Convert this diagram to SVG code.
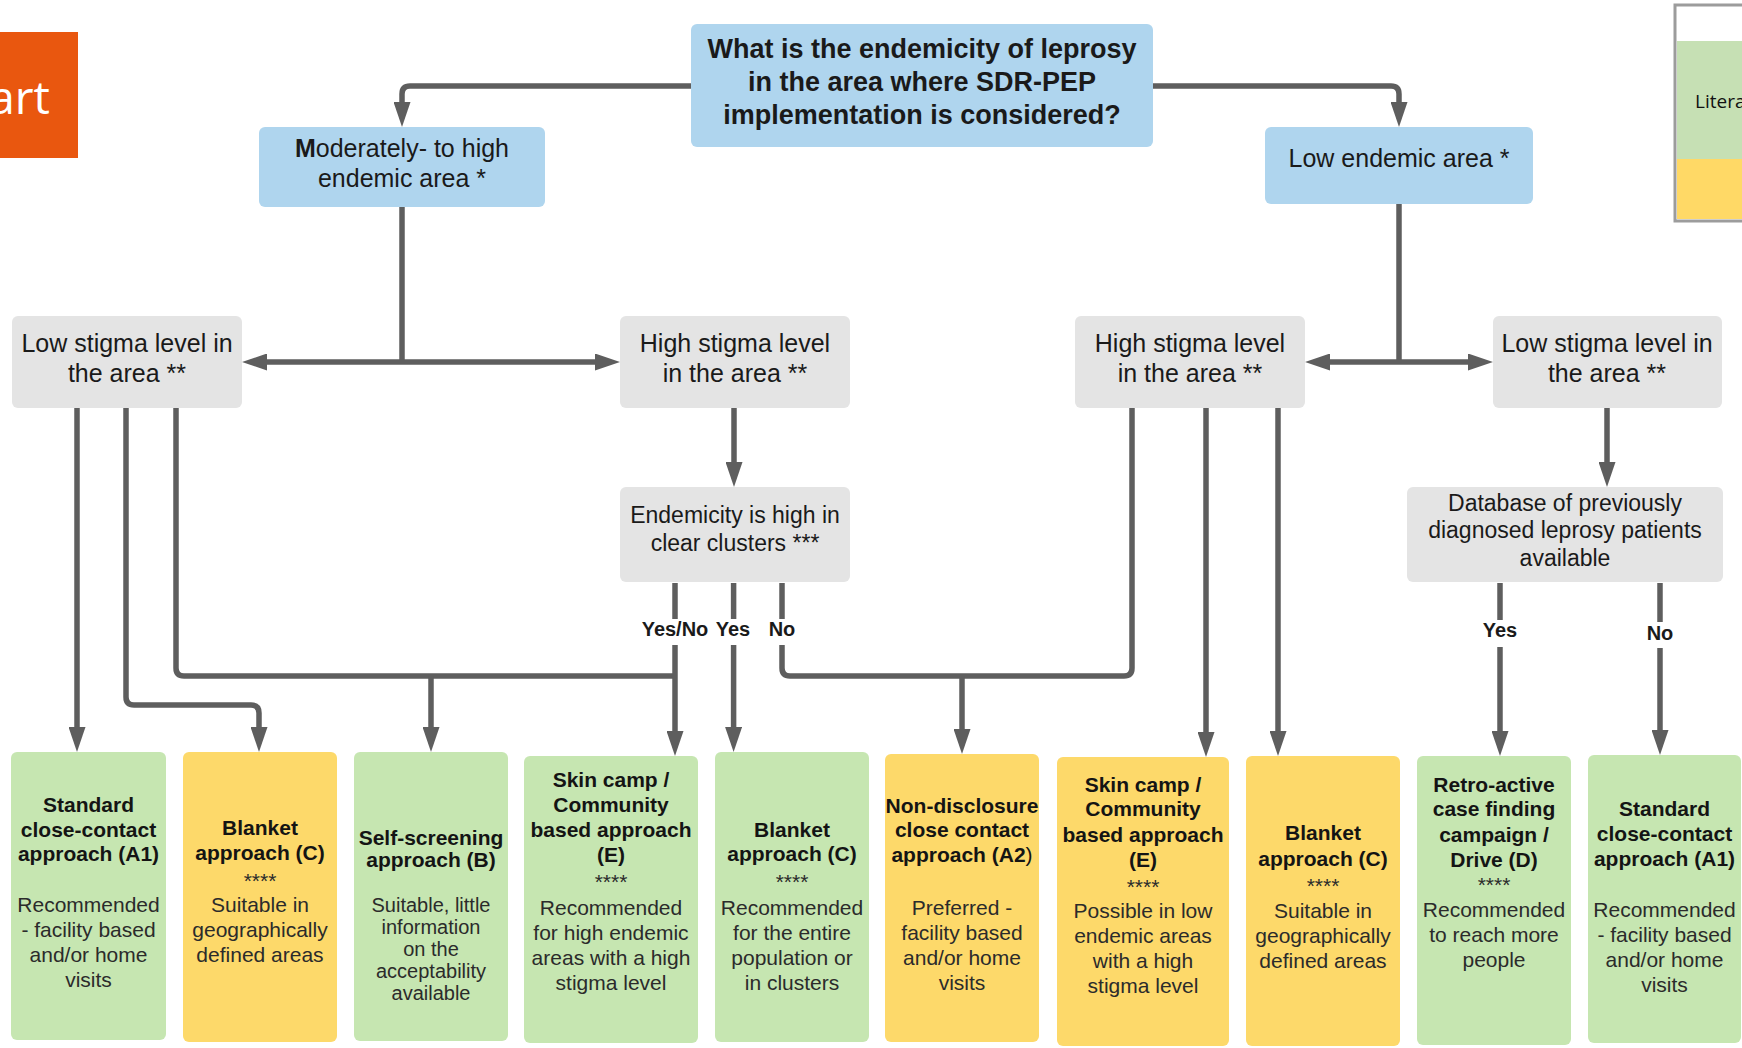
<svg xmlns="http://www.w3.org/2000/svg" width="1742" height="1048" viewBox="0 0 1742 1048">
<defs>
<style>
text{font-family:"Liberation Sans",Arial,sans-serif;fill:#1a1a1a;text-anchor:middle}
.blue{fill:#AFD5EE}
.gray{fill:#E4E4E4}
.green{fill:#C6E6B1}
.yellow{fill:#FDD96A}
.q{font-size:27px;font-weight:bold}
.l2{font-size:25px}
.l3{font-size:23px}
.lbl{font-size:20px;font-weight:bold}
.t{font-size:21px;font-weight:bold;fill:#141414}
.b{font-size:21px;fill:#2b2b2b}
.s{font-size:20px;fill:#2b2b2b}
.conn path{fill:none;stroke:#5e5e5e;stroke-width:5.5;stroke-linejoin:round}
</style>
<marker id="ah" markerUnits="userSpaceOnUse" markerWidth="25" markerHeight="17" refX="13" refY="8.5" orient="auto">
<path d="M0,0 L25,8.5 L0,17 z" fill="#5e5e5e"/>
</marker>
</defs>
<rect width="1742" height="1048" fill="#ffffff"/>

<g id="title-tab">
<rect x="0" y="32" width="78" height="126" fill="#E9570F"/>
<text x="50" y="114" style="font-family:'Open Sans','Noto Sans',sans-serif;font-size:46px;fill:#ffffff;text-anchor:end">art</text>
</g>

<g id="legend">
<rect x="1675" y="5" width="80" height="216" fill="#ffffff" stroke="#9c9c9c" stroke-width="3"/>
<rect x="1677" y="41" width="65" height="118" fill="#C6E0B4"/>
<rect x="1677" y="159" width="65" height="60" fill="#FFD966"/>
<text x="1695" y="108" style="font-family:'Open Sans','Noto Sans',sans-serif;font-size:19px;text-anchor:start;fill:#111">Litera</text>
</g>

<g class="conn" id="connectors">
<path d="M691,86 L410,86 Q402,86 402,94 L402,115" marker-end="url(#ah)"/>
<path d="M1153,86 L1391,86 Q1399,86 1399,94 L1399,115" marker-end="url(#ah)"/>
<path d="M402,207 L402,362"/>
<path d="M402,362 L254,362" marker-end="url(#ah)"/>
<path d="M402,362 L608,362" marker-end="url(#ah)"/>
<path d="M1399,204 L1399,362"/>
<path d="M1399,362 L1317,362" marker-end="url(#ah)"/>
<path d="M1399,362 L1481,362" marker-end="url(#ah)"/>
<path d="M734,408 L734,475" marker-end="url(#ah)"/>
<path d="M1607,408 L1607,475" marker-end="url(#ah)"/>
<path d="M77,408 L77,740" marker-end="url(#ah)"/>
<path d="M126,408 L126,697 Q126,705 134,705 L251,705 Q259,705 259,713 L259,740" marker-end="url(#ah)"/>
<path d="M176,408 L176,668 Q176,676 184,676 L675,676"/>
<path d="M431,676 L431,740" marker-end="url(#ah)"/>
<path d="M675,583 L675,619"/>
<path d="M675,645 L675,744" marker-end="url(#ah)"/>
<path d="M733.6,583 L733.6,619"/>
<path d="M733.6,645 L733.6,740" marker-end="url(#ah)"/>
<path d="M782,583 L782,619"/>
<path d="M782,645 L782,668 Q782,676 790,676 L1124,676 Q1132,676 1132,668 L1132,408"/>
<path d="M962,676 L962,742" marker-end="url(#ah)"/>
<path d="M1206,408 L1206,745" marker-end="url(#ah)"/>
<path d="M1278,408 L1278,744" marker-end="url(#ah)"/>
<path d="M1500,583 L1500,620"/>
<path d="M1500,647 L1500,744" marker-end="url(#ah)"/>
<path d="M1660,583 L1660,622"/>
<path d="M1660,648 L1660,743" marker-end="url(#ah)"/>
</g>

<g id="labels">
<text class="lbl" x="675" y="636">Yes/No</text>
<text class="lbl" x="733" y="636">Yes</text>
<text class="lbl" x="782" y="636">No</text>
<text class="lbl" x="1500" y="637">Yes</text>
<text class="lbl" x="1660" y="640">No</text>
</g>

<g id="question">
<rect class="blue" x="691" y="24" width="462" height="123" rx="6"/>
<text class="q" x="922" y="58">What is the endemicity of leprosy</text>
<text class="q" x="922" y="91">in the area where SDR-PEP</text>
<text class="q" x="922" y="124">implementation is considered?</text>
</g>

<g id="moderate-endemic">
<rect class="blue" x="259" y="127" width="286" height="80" rx="6"/>
<text class="l2" x="402" y="157"><tspan font-weight="bold">M</tspan>oderately- to high</text>
<text class="l2" x="402" y="187">endemic area *</text>
</g>

<g id="low-endemic">
<rect class="blue" x="1265" y="127" width="268" height="77" rx="6"/>
<text class="l2" x="1399" y="167">Low endemic area *</text>
</g>

<g id="low-stigma-left">
<rect class="gray" x="12" y="316" width="230" height="92" rx="6"/>
<text class="l2" x="127" y="352">Low stigma level in</text>
<text class="l2" x="127" y="382">the area **</text>
</g>

<g id="high-stigma-left">
<rect class="gray" x="620" y="316" width="230" height="92" rx="6"/>
<text class="l2" x="735" y="352">High stigma level</text>
<text class="l2" x="735" y="382">in the area **</text>
</g>

<g id="high-stigma-right">
<rect class="gray" x="1075" y="316" width="230" height="92" rx="6"/>
<text class="l2" x="1190" y="352">High stigma level</text>
<text class="l2" x="1190" y="382">in the area **</text>
</g>

<g id="low-stigma-right">
<rect class="gray" x="1493" y="316" width="229" height="92" rx="6"/>
<text class="l2" x="1607" y="352">Low stigma level in</text>
<text class="l2" x="1607" y="382">the area **</text>
</g>

<g id="clusters">
<rect class="gray" x="620" y="487" width="230" height="95" rx="6"/>
<text class="l3" x="735" y="523">Endemicity is high in</text>
<text class="l3" x="735" y="551">clear clusters ***</text>
</g>

<g id="database">
<rect class="gray" x="1407" y="487" width="316" height="95" rx="6"/>
<text class="l3" x="1565" y="511">Database of previously</text>
<text class="l3" x="1565" y="538">diagnosed leprosy patients</text>
<text class="l3" x="1565" y="566">available</text>
</g>

<g id="a1-left">
<rect class="green" x="11" y="752" width="155" height="288" rx="6"/>
<text class="t" x="88.5" y="812">Standard</text>
<text class="t" x="88.5" y="837">close-contact</text>
<text class="t" x="88.5" y="861">approach (A1)</text>
<text class="b" x="88.5" y="912">Recommended</text>
<text class="b" x="88.5" y="937">- facility based</text>
<text class="b" x="88.5" y="962">and/or home</text>
<text class="b" x="88.5" y="987">visits</text>
</g>

<g id="c-left">
<rect class="yellow" x="183" y="752" width="154" height="290" rx="6"/>
<text class="t" x="260" y="835">Blanket</text>
<text class="t" x="260" y="860">approach (C)</text>
<text class="b" x="260" y="888">****</text>
<text class="b" x="260" y="912">Suitable in</text>
<text class="b" x="260" y="937">geographically</text>
<text class="b" x="260" y="962">defined areas</text>
</g>

<g id="b-self">
<rect class="green" x="354" y="752" width="154" height="289" rx="6"/>
<text class="t" x="431" y="845">Self-screening</text>
<text class="t" x="431" y="867">approach (B)</text>
<text class="s" x="431" y="912">Suitable, little</text>
<text class="s" x="431" y="934">information</text>
<text class="s" x="431" y="956">on the</text>
<text class="s" x="431" y="978">acceptability</text>
<text class="s" x="431" y="1000">available</text>
</g>

<g id="e-green">
<rect class="green" x="524" y="756" width="174" height="287" rx="6"/>
<text class="t" x="611" y="787">Skin camp /</text>
<text class="t" x="611" y="812">Community</text>
<text class="t" x="611" y="837">based approach</text>
<text class="t" x="611" y="862">(E)</text>
<text class="b" x="611" y="889">****</text>
<text class="b" x="611" y="915">Recommended</text>
<text class="b" x="611" y="940">for high endemic</text>
<text class="b" x="611" y="965">areas with a high</text>
<text class="b" x="611" y="990">stigma level</text>
</g>

<g id="c-green">
<rect class="green" x="715" y="752" width="154" height="290" rx="6"/>
<text class="t" x="792" y="837">Blanket</text>
<text class="t" x="792" y="861">approach (C)</text>
<text class="b" x="792" y="889">****</text>
<text class="b" x="792" y="915">Recommended</text>
<text class="b" x="792" y="940">for the entire</text>
<text class="b" x="792" y="965">population or</text>
<text class="b" x="792" y="990">in clusters</text>
</g>

<g id="a2">
<rect class="yellow" x="885" y="754" width="154" height="288" rx="6"/>
<text class="t" x="962" y="813">Non-disclosure</text>
<text class="t" x="962" y="837">close contact</text>
<text class="t" x="962" y="862">approach (A2<tspan font-weight="normal">)</tspan></text>
<text class="b" x="962" y="915">Preferred -</text>
<text class="b" x="962" y="940">facility based</text>
<text class="b" x="962" y="965">and/or home</text>
<text class="b" x="962" y="990">visits</text>
</g>

<g id="e-yellow">
<rect class="yellow" x="1057" y="757" width="172" height="289" rx="6"/>
<text class="t" x="1143" y="792">Skin camp /</text>
<text class="t" x="1143" y="816">Community</text>
<text class="t" x="1143" y="842">based approach</text>
<text class="t" x="1143" y="867">(E)</text>
<text class="b" x="1143" y="894">****</text>
<text class="b" x="1143" y="918">Possible in low</text>
<text class="b" x="1143" y="943">endemic areas</text>
<text class="b" x="1143" y="968">with a high</text>
<text class="b" x="1143" y="993">stigma level</text>
</g>

<g id="c-right">
<rect class="yellow" x="1246" y="756" width="154" height="290" rx="6"/>
<text class="t" x="1323" y="840">Blanket</text>
<text class="t" x="1323" y="866">approach (C)</text>
<text class="b" x="1323" y="893">****</text>
<text class="b" x="1323" y="918">Suitable in</text>
<text class="b" x="1323" y="943">geographically</text>
<text class="b" x="1323" y="968">defined areas</text>
</g>

<g id="d-retro">
<rect class="green" x="1417" y="756" width="154" height="289" rx="6"/>
<text class="t" x="1494" y="792">Retro-active</text>
<text class="t" x="1494" y="816">case finding</text>
<text class="t" x="1494" y="842">campaign /</text>
<text class="t" x="1494" y="867">Drive (D)</text>
<text class="b" x="1494" y="892">****</text>
<text class="b" x="1494" y="917">Recommended</text>
<text class="b" x="1494" y="942">to reach more</text>
<text class="b" x="1494" y="967">people</text>
</g>

<g id="a1-right">
<rect class="green" x="1588" y="755" width="153" height="288" rx="6"/>
<text class="t" x="1664.5" y="816">Standard</text>
<text class="t" x="1664.5" y="841">close-contact</text>
<text class="t" x="1664.5" y="866">approach (A1)</text>
<text class="b" x="1664.5" y="917">Recommended</text>
<text class="b" x="1664.5" y="942">- facility based</text>
<text class="b" x="1664.5" y="967">and/or home</text>
<text class="b" x="1664.5" y="992">visits</text>
</g>
</svg>
